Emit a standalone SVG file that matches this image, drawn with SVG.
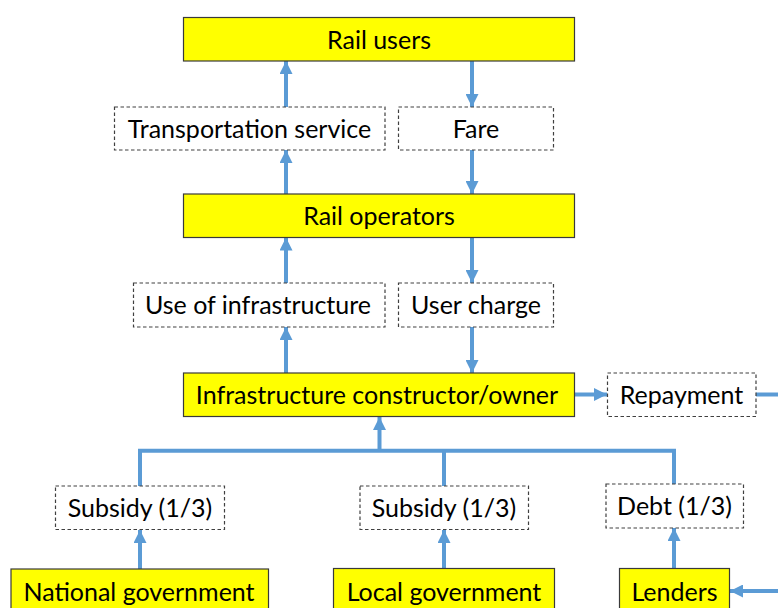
<svg xmlns="http://www.w3.org/2000/svg" width="778" height="608" viewBox="0 0 778 608">
<defs>
<marker id="ah" markerWidth="13" markerHeight="13" refX="13" refY="6.5" orient="auto" markerUnits="userSpaceOnUse">
<path d="M0,0 L13,6.5 L0,13 Z" fill="#5B9BD5"/>
</marker>
<style>
.y{fill:#FFFF00;stroke:#3a3a3a;stroke-width:1.2}
.d{fill:#FFFFFF;stroke:#404040;stroke-width:1.2;stroke-dasharray:3.5,2.5}
text{font-family:Lato,"Liberation Sans",sans-serif;font-size:25px;fill:#000;text-anchor:middle}
.c{fill:none;stroke:#5B9BD5;stroke-width:4}
.a{marker-end:url(#ah)}
</style>
</defs>
<rect width="778" height="608" fill="#FFFFFF"/>
<g id="connectors">
<line class="c a" x1="286" y1="107" x2="286" y2="61"/>
<line class="c a" x1="472" y1="61" x2="472" y2="107"/>
<line class="c a" x1="286" y1="194" x2="286" y2="150"/>
<line class="c a" x1="472" y1="150" x2="472" y2="194"/>
<line class="c a" x1="286" y1="283" x2="286" y2="237.5"/>
<line class="c a" x1="472" y1="237.5" x2="472" y2="283"/>
<line class="c a" x1="286" y1="373" x2="286" y2="327"/>
<line class="c a" x1="472" y1="327" x2="472" y2="373"/>
<line class="c a" x1="574" y1="394.5" x2="607" y2="394.5"/>
<line class="c" x1="756" y1="394.5" x2="778" y2="394.5"/>
<line class="c a" x1="778" y1="591" x2="730" y2="591"/>
<line class="c a" x1="379.5" y1="452" x2="379.5" y2="417"/>
<polyline class="c" points="140,486 140,450.7 674,450.7 674,484"/>
<line class="c" x1="444" y1="450.7" x2="444" y2="486"/>
<line class="c a" x1="140" y1="569" x2="140" y2="530"/>
<line class="c a" x1="444" y1="569" x2="444" y2="530"/>
<line class="c a" x1="674" y1="569" x2="674" y2="528"/>
</g>
<g id="rail-users"><rect class="y" x="183.5" y="17.5" width="391" height="43.5"/><text x="379" y="48.5">Rail users</text></g>
<g id="transportation-service"><rect class="d" x="114.5" y="107" width="270.5" height="43"/><text x="249.5" y="137.5">Transportation service</text></g>
<g id="fare"><rect class="d" x="398.5" y="107" width="155" height="43"/><text x="476" y="137.5">Fare</text></g>
<g id="rail-operators"><rect class="y" x="183.5" y="194" width="391" height="43.5"/><text x="379" y="225">Rail operators</text></g>
<g id="use-of-infrastructure"><rect class="d" x="133.5" y="283" width="251.5" height="44"/><text x="258" y="313.5">Use of infrastructure</text></g>
<g id="user-charge"><rect class="d" x="398.5" y="283" width="155" height="44"/><text x="476" y="313.5">User charge</text></g>
<g id="infrastructure-owner"><rect class="y" x="183.5" y="373" width="391" height="43.5"/><text x="377" y="404">Infrastructure constructor/owner</text></g>
<g id="repayment"><rect class="d" x="607.5" y="373" width="148.5" height="43.5"/><text x="681.5" y="403.5">Repayment</text></g>
<g id="subsidy-national"><rect class="d" x="55.5" y="486" width="169" height="43.5"/><text x="140" y="516.5">Subsidy (1/3)</text></g>
<g id="subsidy-local"><rect class="d" x="360" y="486" width="168.5" height="43.5"/><text x="444" y="516.5">Subsidy (1/3)</text></g>
<g id="debt"><rect class="d" x="606" y="484" width="137.5" height="44"/><text x="674.5" y="514.5">Debt (1/3)</text></g>
<g id="national-government"><rect class="y" x="11" y="569" width="257.5" height="45"/><text x="139" y="600.5">National government</text></g>
<g id="local-government"><rect class="y" x="333.5" y="568.5" width="221" height="45"/><text x="444" y="600.5">Local government</text></g>
<g id="lenders"><rect class="y" x="619.5" y="568.5" width="110" height="45"/><text x="674.5" y="600.5">Lenders</text></g>
</svg>
